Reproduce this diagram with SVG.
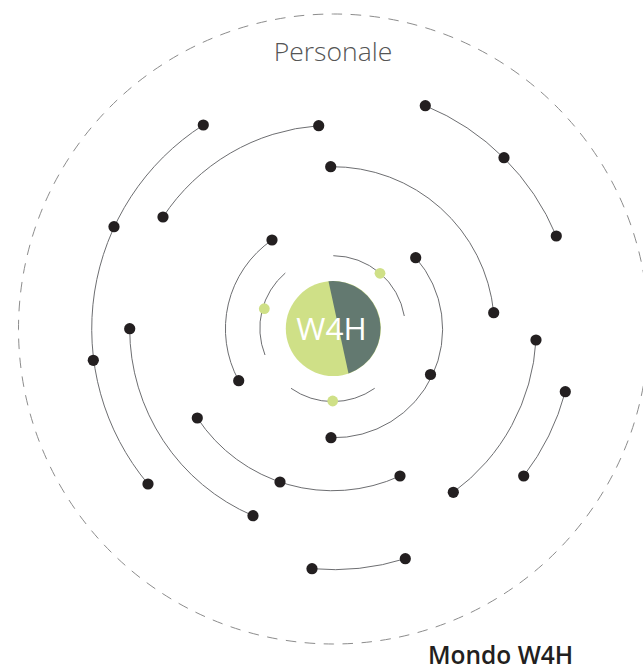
<svg xmlns="http://www.w3.org/2000/svg" width="643" height="666" viewBox="0 0 643 666">
<style>
.orbit{fill:none;stroke:#6d6e71;stroke-width:1}
.dash{fill:none;stroke:#8c8c8c;stroke-width:1;stroke-dasharray:10.5 8.5}
.dot{fill:#231f20}
.gdot{fill:#cfe087}
.lbl{font-family:"Open Sans","Liberation Sans",sans-serif}
</style>
<rect width="643" height="666" fill="#ffffff"/>
<circle id="world" class="dash" cx="333.5" cy="329" r="315"/>
<text class="lbl" x="333" y="61" font-size="26.5" font-weight="300" fill="#555555" text-anchor="middle">Personale</text>
<text class="lbl" x="428" y="664" font-size="24.5" font-weight="600" fill="#231f20">Mondo W4H</text>
<g id="connectors">
<path class="orbit" d="M203.3,125 A242,242 0 0 0 148,484"/>
<path class="orbit" d="M318.7,125.7 A204,204 0 0 0 163,217"/>
<path class="orbit" d="M330.7,166.7 A162,162 0 0 1 493.7,312.7"/>
<path class="orbit" d="M425.3,105.7 A241.5,241.5 0 0 1 556.3,236"/>
<path class="orbit" d="M129.7,328.7 A203.5,203.5 0 0 0 253,515.7"/>
<path class="orbit" d="M197.3,418 A162,162 0 0 0 400,476"/>
<path class="orbit" d="M536,340 A202.7,202.7 0 0 1 453.3,492.3"/>
<path class="orbit" d="M565.3,391.7 A240.3,240.3 0 0 1 523.7,476"/>
<path class="orbit" d="M312,568.7 A240.6,240.6 0 0 0 405.3,558.7"/>
<path class="orbit" d="M272,240 A108,108 0 0 0 238.7,380.7"/>
<path class="orbit" d="M415.7,257.7 A108.5,108.5 0 0 1 331,437.7"/>
<path class="orbit" d="M333.3,255.7 A72.5,72.5 0 0 1 404.3,316"/>
<path class="orbit" d="M285.3,273 A72.5,72.5 0 0 0 265,355"/>
<path class="orbit" d="M291,388.3 A72.5,72.5 0 0 0 374.7,388.3"/>
</g>
<g id="core">
<circle cx="333.3" cy="328.5" r="47.5" fill="#cfe087"/>
<path d="M328.5,281.3 L348.5,373.5 A47.5,47.5 0 0 0 328.5,281.3 Z" fill="#637970"/>
<text class="lbl" x="331.5" y="340" font-size="31.5" font-weight="400" fill="#ffffff" text-anchor="middle">W4H</text>
</g>
<g id="nodes">
<circle class="dot" cx="203.3" cy="125" r="5.6"/>
<circle class="dot" cx="114" cy="226.7" r="5.6"/>
<circle class="dot" cx="93.3" cy="360.3" r="5.6"/>
<circle class="dot" cx="148" cy="484" r="5.6"/>
<circle class="dot" cx="318.7" cy="125.7" r="5.6"/>
<circle class="dot" cx="163" cy="217" r="5.6"/>
<circle class="dot" cx="330.7" cy="166.7" r="5.6"/>
<circle class="dot" cx="493.7" cy="312.7" r="5.6"/>
<circle class="dot" cx="425.3" cy="105.7" r="5.6"/>
<circle class="dot" cx="504" cy="157.7" r="5.6"/>
<circle class="dot" cx="556.3" cy="236" r="5.6"/>
<circle class="dot" cx="129.7" cy="328.7" r="5.6"/>
<circle class="dot" cx="253" cy="515.7" r="5.6"/>
<circle class="dot" cx="197.3" cy="418" r="5.6"/>
<circle class="dot" cx="280" cy="482" r="5.6"/>
<circle class="dot" cx="400" cy="476" r="5.6"/>
<circle class="dot" cx="536" cy="340" r="5.6"/>
<circle class="dot" cx="453.3" cy="492.3" r="5.6"/>
<circle class="dot" cx="565.3" cy="391.7" r="5.6"/>
<circle class="dot" cx="523.7" cy="476" r="5.6"/>
<circle class="dot" cx="312" cy="568.7" r="5.6"/>
<circle class="dot" cx="405.3" cy="558.7" r="5.6"/>
<circle class="dot" cx="272" cy="240" r="5.6"/>
<circle class="dot" cx="238.7" cy="380.7" r="5.6"/>
<circle class="dot" cx="415.7" cy="257.7" r="5.6"/>
<circle class="dot" cx="430.5" cy="374.5" r="5.6"/>
<circle class="dot" cx="331" cy="437.7" r="5.6"/>
<circle class="gdot" cx="380" cy="273.3" r="5.4"/>
<circle class="gdot" cx="264.3" cy="308.7" r="5.4"/>
<circle class="gdot" cx="332.7" cy="401" r="5.4"/>
</g>
</svg>
